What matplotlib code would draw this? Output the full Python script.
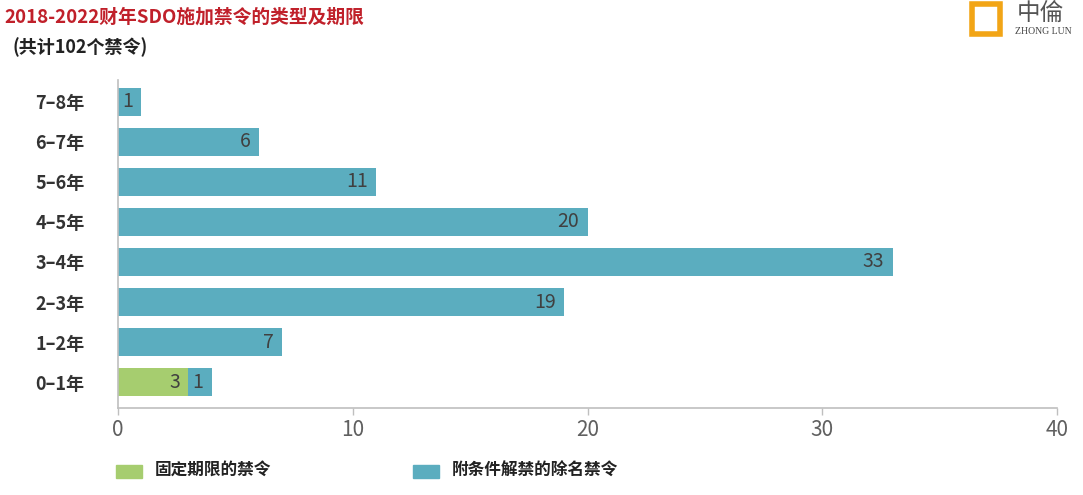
import matplotlib.pyplot as plt
from matplotlib.patches import Rectangle

plt.rcParams['font.family'] = ['Noto Sans CJK SC', 'DejaVu Sans']

categories = ["0–1年", "1–2年", "2–3年", "3–4年", "4–5年", "5–6年", "6–7年", "7–8年"]
fixed = [3, 0, 0, 0, 0, 0, 0, 0]
conditional = [1, 7, 19, 33, 20, 11, 6, 1]
legend_labels = ["固定期限的禁令", "附条件解禁的除名禁令"]

green = "#A6CD6F"
teal = "#5BADBF"

fig = plt.figure(figsize=(10.83, 4.95), dpi=100)
ax = fig.add_axes([118 / 1083, 87 / 495, 939 / 1083, 328 / 495])

y = range(len(categories))
ax.barh(y, fixed, height=0.7, color=green)
ax.barh(y, conditional, left=fixed, height=0.7, color=teal)

for i in y:
    if fixed[i] > 0:
        ax.annotate(str(fixed[i]), (fixed[i], i), xytext=(-6, 0),
                    textcoords="offset points", ha="right", va="center",
                    fontsize=14, color="#404040")
    ax.annotate(str(conditional[i]), (fixed[i] + conditional[i], i), xytext=(-6, 0),
                textcoords="offset points", ha="right", va="center",
                fontsize=14, color="#404040")

ax.set_xlim(0, 40)
ax.set_ylim(-0.65, 7.55)
ax.set_xticks([0, 10, 20, 30, 40])
ax.set_yticks(list(y))
ax.set_yticklabels(categories, fontsize=13, fontweight="bold", color="#333333")
ax.tick_params(axis="y", length=0, pad=24)
ax.tick_params(axis="x", length=5, width=1, color="#BFBFBF", labelsize=15,
               labelcolor="#606060", pad=3)
for s in ["top", "right"]:
    ax.spines[s].set_visible(False)
for s in ["left", "bottom"]:
    ax.spines[s].set_color("#BFBFBF")
    ax.spines[s].set_linewidth(1.2)

fig.text(0.004, 0.965, "2018-2022财年SDO施加禁令的类型及期限", fontsize=13.5,
         fontweight="bold", color="#C0202A", va="center")
fig.text(0.012, 0.905, "(共计102个禁令)", fontsize=13, fontweight="bold",
         color="#222222", va="center")

# legend
fig.patches.append(Rectangle((116 / 1083, (495 - 478) / 495), 26 / 1083, 13 / 495,
                             transform=fig.transFigure, color=green))
fig.text(155 / 1083, (495 - 471) / 495, legend_labels[0], fontsize=12,
         fontweight="bold", color="#222222", va="center")
fig.patches.append(Rectangle((413 / 1083, (495 - 478) / 495), 26 / 1083, 13 / 495,
                             transform=fig.transFigure, color=teal))
fig.text(452 / 1083, (495 - 471) / 495, legend_labels[1], fontsize=12,
         fontweight="bold", color="#222222", va="center")

# logo
fig.patches.append(Rectangle((972 / 1083, (495 - 34) / 495), 28 / 1083, 30 / 495,
                             transform=fig.transFigure, fill=False,
                             edgecolor="#F2A516", linewidth=4))
fig.text(1017 / 1083, (495 - 13) / 495, "中倫", fontsize=17, color="#555555",
         va="center")
fig.text(1015 / 1083, (495 - 31) / 495, "ZHONG LUN", fontsize=7, color="#444444",
         va="center", family="Liberation Serif")

fig.savefig("out.png", dpi=100)
